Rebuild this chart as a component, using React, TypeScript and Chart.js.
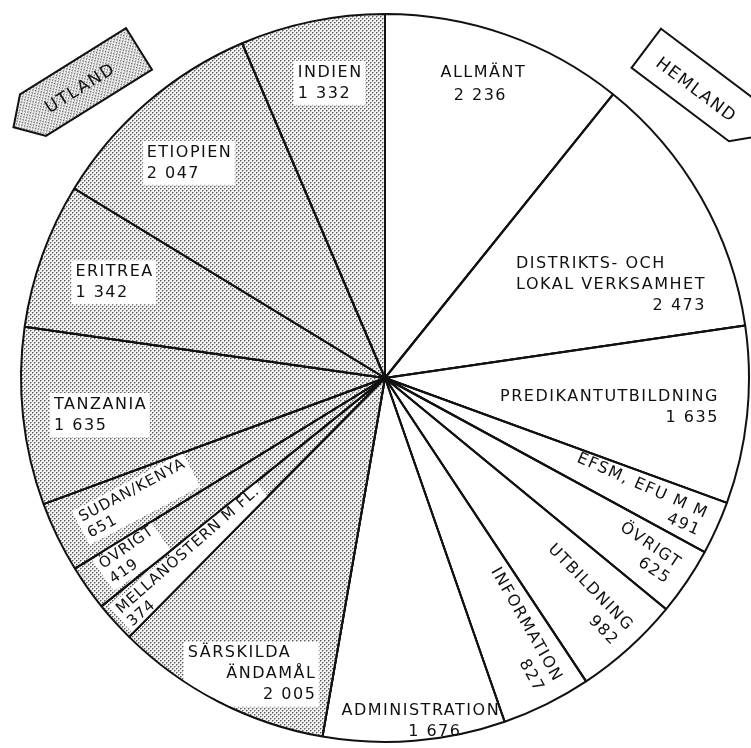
import React, { useEffect, useRef } from 'react';
import { Chart, registerables } from 'chart.js';

Chart.register(...registerables);

// ---- data ----
const hemlandCategories = [
  'ALLMÄNT',
  'DISTRIKTS- OCH\nLOKAL VERKSAMHET',
  'PREDIKANTUTBILDNING',
  'EFSM, EFU M M',
  'ÖVRIGT',
  'UTBILDNING',
  'INFORMATION',
  'ADMINISTRATION',
];
const hemlandValues = [2236, 2473, 1635, 491, 625, 982, 827, 1676];

const utlandCategories = [
  'SÄRSKILDA\nÄNDAMÅL',
  'MELLANÖSTERN M FL.',
  'ÖVRIGT',
  'SUDAN/KENYA',
  'TANZANIA',
  'ERITREA',
  'ETIOPIEN',
  'INDIEN',
];
const utlandValues = [2005, 374, 419, 651, 1635, 1342, 2047, 1332];

const groupTitles = ['HEMLAND', 'UTLAND'];

// ---- label layout (positions relative to each slice) ----
type Layout = {
  dTheta: number; // degrees offset from slice middle
  frac: number; // fraction of radius
  rot: 'h' | 'out' | 'in';
  align: ('l' | 'c' | 'r')[];
  box: boolean;
  rotAdj?: number;
  size?: number;
  lineH?: number;
  firstOnAnchor?: boolean;
  minW?: number;
  dx?: number[];
};

const labelLayout: Layout[] = [
  { dTheta: -1, frac: 0.85, rot: 'h', align: ['c', 'c'], box: false, lineH: 23, dx: [0, -3] },
  { dTheta: 7.2, frac: 0.67, rot: 'h', align: ['l', 'l', 'r'], box: false },
  { dTheta: 1.7, frac: 0.62, rot: 'h', align: ['l', 'r'], box: false },
  { dTheta: 0.4, frac: 0.765, rot: 'out', align: ['c', 'r'], box: false, rotAdj: -1, lineH: 19 },
  { dTheta: 0, frac: 0.86, rot: 'out', align: ['c', 'r'], box: false, lineH: 19 },
  { dTheta: -0.3, frac: 0.805, rot: 'out', align: ['c', 'r'], box: false, rotAdj: -2 },
  { dTheta: -1.3, frac: 0.78, rot: 'out', align: ['c', 'r'], box: false, rotAdj: -2 },
  { dTheta: -1.5, frac: 0.95, rot: 'h', align: ['c', 'c'], box: false, dx: [-2, 12] },
  { dTheta: -3.0, frac: 0.893, rot: 'h', align: ['l', 'r', 'r'], box: true, minW: 127 },
  { dTheta: 0.9, frac: 0.72, rot: 'in', align: ['c', 'l'], box: true, size: 15, lineH: 17, firstOnAnchor: true },
  { dTheta: 0.2, frac: 0.85, rot: 'in', align: ['c', 'l'], box: true, size: 15, lineH: 18 },
  { dTheta: 0, frac: 0.76, rot: 'in', align: ['c', 'l'], box: true, size: 15, lineH: 18, rotAdj: -2 },
  { dTheta: -1.3, frac: 0.79, rot: 'h', align: ['l', 'l'], box: true },
  { dTheta: -0.3, frac: 0.79, rot: 'h', align: ['l', 'l'], box: true },
  { dTheta: -1.5, frac: 0.8, rot: 'h', align: ['l', 'l'], box: true },
  { dTheta: 0.9, frac: 0.825, rot: 'h', align: ['l', 'l'], box: true },
];

const FONT_FAMILY = '"DejaVu Sans", "Liberation Sans", sans-serif';
const LINE_H = 21;
const SPACING = 1.5;

function fmt(n: number): string {
  return String(n).replace(/\B(?=(\d{3})+(?!\d))/g, ' ');
}

function makePattern(): CanvasPattern | string {
  const c = document.createElement('canvas');
  c.width = 4;
  c.height = 4;
  const x = c.getContext('2d');
  if (!x) return '#d0d0d0';
  x.fillStyle = '#f3f3f3';
  x.fillRect(0, 0, 4, 4);
  x.fillStyle = '#a8a8a8';
  x.fillRect(1, 0, 1, 1);
  x.fillRect(0, 1, 1, 1);
  x.fillRect(3, 2, 1, 1);
  x.fillRect(2, 3, 1, 1);
  x.fillStyle = '#5a5a5a';
  x.fillRect(0, 0, 1, 1);
  x.fillRect(2, 2, 1, 1);
  const p = x.createPattern(c, 'repeat');
  return p || '#d0d0d0';
}

function drawArrow(
  ctx: CanvasRenderingContext2D,
  cx: number,
  cy: number,
  angleDeg: number,
  len: number,
  wid: number,
  tip: number,
  tipDir: number,
  fill: CanvasPattern | string,
  text: string,
  tdx: number,
  tdy: number
) {
  ctx.save();
  ctx.translate(cx, cy);
  ctx.rotate((angleDeg * Math.PI) / 180);
  const hl = len / 2;
  const hw = wid / 2;
  ctx.beginPath();
  if (tipDir < 0) {
    ctx.moveTo(-hl, -hw);
    ctx.lineTo(hl, -hw);
    ctx.lineTo(hl, hw);
    ctx.lineTo(-hl, hw);
    ctx.lineTo(-hl - tip, 0);
  } else {
    ctx.moveTo(-hl, -hw);
    ctx.lineTo(hl, -hw);
    ctx.lineTo(hl + tip, 0);
    ctx.lineTo(hl, hw);
    ctx.lineTo(-hl, hw);
  }
  ctx.closePath();
  ctx.fillStyle = fill;
  ctx.fill();
  ctx.lineWidth = 2;
  ctx.strokeStyle = '#111';
  ctx.stroke();
  ctx.fillStyle = '#111';
  ctx.font = `17px ${FONT_FAMILY}`;
  (ctx as any).letterSpacing = '1.5px';
  ctx.textAlign = 'center';
  ctx.textBaseline = 'middle';
  ctx.fillText(text, tdx, tdy);
  ctx.restore();
}

export default function App() {
  const ref = useRef<HTMLCanvasElement | null>(null);

  useEffect(() => {
    const canvas = ref.current;
    if (!canvas) return;
    const pattern = makePattern();

    const categories = [...hemlandCategories, ...utlandCategories];
    const values = [...hemlandValues, ...utlandValues];
    const colors = [
      ...hemlandValues.map(() => '#ffffff'),
      ...utlandValues.map(() => pattern),
    ];

    const labelPlugin = {
      id: 'sliceLabels',
      afterDatasetsDraw(chart: any) {
        const ctx: CanvasRenderingContext2D = chart.ctx;
        const meta = chart.getDatasetMeta(0);
        const arcs = meta.data.map((arc: any) =>
          arc.getProps(['x', 'y', 'startAngle', 'endAngle', 'outerRadius'], true)
        );
        arcs.forEach((p: any, i: number) => {
          const lay = labelLayout[i];
          const ang = (p.startAngle + p.endAngle) / 2 + (lay.dTheta * Math.PI) / 180;
          const ax = p.x + Math.cos(ang) * p.outerRadius * lay.frac;
          const ay = p.y + Math.sin(ang) * p.outerRadius * lay.frac;
          let rot = 0;
          if (lay.rot === 'out') rot = ang;
          if (lay.rot === 'in') rot = ang + Math.PI;
          rot += ((lay.rotAdj || 0) * Math.PI) / 180;
          const lines = categories[i].split('\n').concat(fmt(values[i]));
          const size = lay.size || 16;
          const sp = size < 16 ? 1 : SPACING;
          const lh = lay.lineH || LINE_H;
          ctx.save();
          ctx.font = `${size}px ${FONT_FAMILY}`;
          (ctx as any).letterSpacing = `${sp}px`;
          const widths = lines.map((t) => ctx.measureText(t).width - sp);
          const bw = Math.max(lay.minW || 0, ...widths);
          const bh = lines.length * lh;
          const top = lay.firstOnAnchor ? -lh / 2 : -bh / 2;
          if (lay.box) {
            ctx.save();
            ctx.beginPath();
            ctx.moveTo(p.x, p.y);
            ctx.arc(p.x, p.y, p.outerRadius - 1, p.startAngle, p.endAngle);
            ctx.closePath();
            ctx.clip();
            ctx.translate(ax, ay);
            ctx.rotate(rot);
            ctx.fillStyle = '#ffffff';
            ctx.fillRect(-bw / 2 - 4, top - 1, bw + 8, bh + 2);
            ctx.restore();
          }
          ctx.translate(ax, ay);
          ctx.rotate(rot);
          ctx.fillStyle = '#111';
          ctx.textBaseline = 'middle';
          ctx.textAlign = 'left';
          lines.forEach((t, k) => {
            const ty = top + lh * (k + 0.5);
            const a = lay.align[k] || 'c';
            let tx = -widths[k] / 2;
            if (a === 'l') tx = -bw / 2;
            if (a === 'r') tx = bw / 2 - widths[k];
            tx += lay.dx ? lay.dx[k] || 0 : 0;
            ctx.fillText(t, tx, ty);
          });
          ctx.restore();
        });

        // re-stroke slice edges over the label boxes
        ctx.save();
        ctx.strokeStyle = '#111';
        ctx.lineWidth = 2;
        arcs.forEach((p: any) => {
          ctx.beginPath();
          ctx.moveTo(p.x, p.y);
          ctx.lineTo(p.x + Math.cos(p.startAngle) * p.outerRadius, p.y + Math.sin(p.startAngle) * p.outerRadius);
          ctx.stroke();
        });
        ctx.restore();

        // group arrows, placed relative to the pie centre
        const first = arcs[0];
        if (first) {
          const cx = first.x;
          const cy = first.y;
          drawArrow(ctx, cx - 299, cy - 296, -32, 125, 49, 23, -1, pattern, groupTitles[1], -8, 3);
          drawArrow(ctx, cx + 310, cy - 293, 37, 122, 49, 23, 1, '#ffffff', groupTitles[0], 4, 4);
        }
      },
    };

    const chart = new Chart(canvas, {
      type: 'pie',
      data: {
        labels: categories,
        datasets: [
          {
            data: values,
            backgroundColor: colors as any,
            borderColor: '#111111',
            borderWidth: 2,
          },
        ],
      },
      options: {
        responsive: false,
        animation: false,
        events: [],
        rotation: 0,
        layout: { padding: { left: 20, right: 1, top: 12, bottom: 4 } },
        plugins: {
          legend: { display: false },
          tooltip: { enabled: false },
        },
      },
      plugins: [labelPlugin],
    });

    return () => {
      chart.destroy();
    };
  }, []);

  return (
    <div style={{ position: 'fixed', left: 0, top: 0, width: 751, height: 748, background: '#fff' }}>
      <canvas ref={ref} width={751} height={748} style={{ display: 'block' }} />
    </div>
  );
}
